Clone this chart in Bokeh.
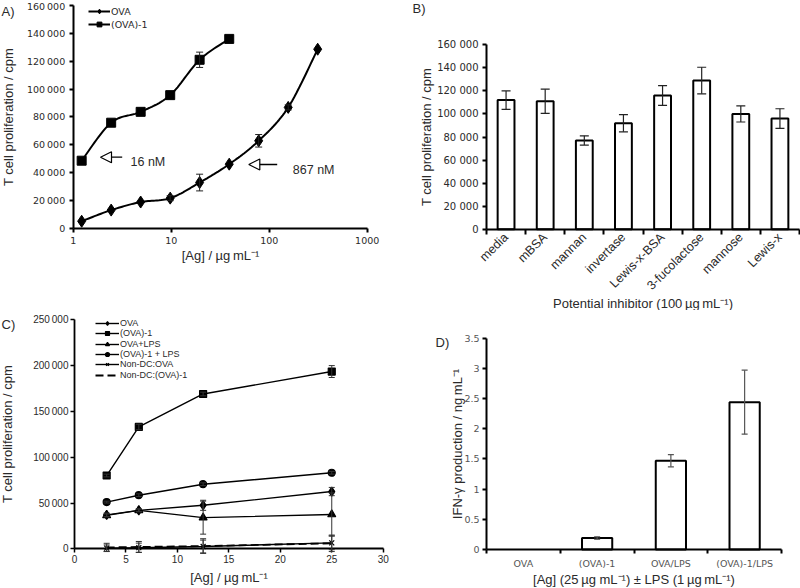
import math
import numpy as np
from bokeh.plotting import figure
from bokeh.layouts import column, row
from bokeh.models import (ColumnDataSource, Whisker, TeeHead, FixedTicker, Legend, LegendItem,
                          Label, Arrow, NormalHead, Range1d)
from bokeh.embed import file_html
from bokeh.resources import INLINE

# ---------------- data ----------------
# Panel A
a_ova_x = [1.22, 2.44, 4.88, 9.77, 19.5, 39.1, 78.1, 156.3, 312.5]
a_ova_y = [5000, 13000, 18800, 21600, 32800, 46000, 62800, 86800, 128600]
a_ova_err = [0, 0, 0, 1800, 6000, 0, 4500, 1800, 0]
a_conj_x = [1.22, 2.44, 4.88, 9.77, 19.5, 39.1]
a_conj_y = [48500, 75800, 83600, 95600, 121000, 136000]
a_conj_err = [0, 0, 0, 0, 5500, 0]
a_xticks = [1, 10, 100, 1000]
a_yticks = [0, 20000, 40000, 60000, 80000, 100000, 120000, 140000, 160000]
a_notes = ["16 nM", "867 nM"]

# Panel B
b_cats = ["media", "mBSA", "mannan", "invertase", "Lewis-x-BSA", "3-fucolactose", "mannose", "Lewis-x"]
b_vals = [112000, 111000, 77000, 92000, 116000, 129000, 100000, 96000]
b_err = [8000, 10500, 4000, 7500, 8500, 11500, 7000, 8500]
b_yticks = [0, 20000, 40000, 60000, 80000, 100000, 120000, 140000, 160000]

# Panel C
c_x = [3.125, 6.25, 12.5, 25]
c_ova = [37000, 42000, 47500, 62500]
c_ova_err = [2000, 1500, 5500, 4500]
c_conj = [80000, 133000, 169000, 193500]
c_conj_err = [1500, 3000, 2000, 6500]
c_ova_lps = [36500, 42000, 34000, 37500]
c_ova_lps_err = [1500, 1500, 18000, 23500]
c_conj_lps = [51000, 58500, 70500, 83000]
c_conj_lps_err = [1000, 1500, 1500, 1500]
c_ndc_ova = [700, 1200, 2500, 6500]
c_ndc_ova_err = [3500, 5000, 7000, 7500]
c_ndc_conj = [1500, 2000, 3000, 6000]
c_ndc_conj_err = [4500, 6000, 8000, 9000]
c_xticks = [0, 5, 10, 15, 20, 25, 30]
c_yticks = [0, 50000, 100000, 150000, 200000, 250000]

# Panel D
d_cats = ["OVA", "(OVA)-1", "OVA/LPS", "(OVA)-1/LPS"]
d_vals = [0, 0.19, 1.47, 2.44]
d_err = [0, 0.02, 0.10, 0.53]
d_yticks = [0, 0.5, 1, 1.5, 2, 2.5, 3, 3.5]
d_ylabels = ["0", "0.5", "1", "1.5", "2", "2.5", "3", "3.5"]

# ---------------- layout helpers ----------------
FONT = "Liberation Sans"
VFONT = "DejaVu Sans"
TXT = "#2a2a2a"


def thin(v):
    return f"{int(v):,}".replace(",", "\u2009")


def space(v):
    return f"{int(v):,}".replace(",", " ")


class Panel:
    """Figure whose frame fills the canvas; axes are pinned at data positions."""

    def __init__(self, box, xa, xb, ya, yb, xlog=False):
        # xa/xb: (data value, page pixel x); ya/yb: (data value, page pixel y)
        self.fx, self.fy, self.fw, self.fh = box
        self.xlog = xlog
        f = (lambda v: math.log10(v)) if xlog else (lambda v: v)
        (va, ra), (vb, rb) = xa, xb
        sx = (rb - ra) / (f(vb) - f(va))
        self.x0 = f(va) - (ra - self.fx) / sx
        self.sx = sx
        (wa, qa), (wb, qb) = ya, yb
        sy = (qa - qb) / (wb - wa)
        self.y0 = wa - (self.fy + self.fh - qa) / sy
        self.sy = sy
        xs, xe = self.x0, self.x0 + self.fw / sx
        if xlog:
            xs, xe = 10 ** xs, 10 ** xe
        p = figure(width=self.fw, height=self.fh,
                   x_range=Range1d(xs, xe), y_range=Range1d(self.y0, self.y0 + self.fh / sy),
                   x_axis_type="log" if xlog else "linear",
                   min_border=0, min_border_left=0, min_border_right=0,
                   min_border_top=0, min_border_bottom=0, title_location=None,
                   output_backend="svg", toolbar_location=None)
        p.outline_line_color = None
        p.grid.visible = False
        p.background_fill_color = "white"
        p.border_fill_color = "white"
        for ax in p.axis:
            ax.axis_line_color = "black"
            ax.major_tick_line_color = "black"
            ax.major_tick_in = 0
            ax.major_tick_out = 4
            ax.minor_tick_line_color = None
            ax.major_label_text_color = TXT
            ax.axis_label_text_color = TXT
            ax.axis_label_text_font_style = "normal"
            ax.axis_label_text_font = FONT
            ax.major_label_text_font = FONT
        self.p = p

    def dx(self, rx):
        v = self.x0 + (rx - self.fx) / self.sx
        return 10 ** v if self.xlog else v

    def dy(self, ry):
        return self.y0 + (self.fy + self.fh - ry) / self.sy

    def label(self, text, rx, ry, size="13px", align="left"):
        self.p.add_layout(Label(x=self.dx(rx), y=self.dy(ry), text=text, text_font=FONT,
                                text_font_size=size, text_color=TXT,
                                text_baseline="middle", text_align=align))

    def legend_item(self, label, renderers, rx, rcenter, glyph_w, size, font, h=12):
        leg = Legend(items=[LegendItem(label=label, renderers=renderers)],
                     location=(round(rx - self.fx), round(self.fy + self.fh - rcenter - h / 2)),
                     padding=0, margin=0, spacing=0, glyph_width=glyph_w, glyph_height=h,
                     label_height=h, label_standoff=1, background_fill_alpha=0,
                     border_line_color=None, label_text_font=font,
                     label_text_font_size=size, label_text_color=TXT)
        self.p.add_layout(leg)


def smooth(xs, ys, n=16):
    u = [math.log10(v) for v in xs]
    pts = list(zip(u, ys))
    ou, oy = [], []
    for i in range(len(pts) - 1):
        p0 = pts[i - 1] if i > 0 else pts[i]
        p1 = pts[i]
        p2 = pts[i + 1]
        p3 = pts[i + 2] if i + 2 < len(pts) else pts[i + 1]
        for t in np.linspace(0, 1, n, endpoint=False):
            t2, t3 = t * t, t * t * t
            vals = []
            for k in range(2):
                vals.append(0.5 * ((2 * p1[k]) + (-p0[k] + p2[k]) * t +
                                   (2 * p0[k] - 5 * p1[k] + 4 * p2[k] - p3[k]) * t2 +
                                   (-p0[k] + 3 * p1[k] - 3 * p2[k] + p3[k]) * t3))
            ou.append(vals[0]); oy.append(vals[1])
    ou.append(pts[-1][0]); oy.append(pts[-1][1])
    return [10 ** v for v in ou], oy


def whisk(p, xs, ys, errs, size=7, color="#222222", width=1):
    sel = [i for i in range(len(xs)) if errs[i] > 0]
    src = ColumnDataSource(dict(base=[xs[i] for i in sel],
                                lower=[ys[i] - errs[i] for i in sel],
                                upper=[ys[i] + errs[i] for i in sel]))
    w = Whisker(base="base", lower="lower", upper="upper", source=src, level="overlay",
                line_color=color, line_width=width,
                upper_head=TeeHead(size=size, line_color=color, line_width=width),
                lower_head=TeeHead(size=size, line_color=color, line_width=width))
    p.add_layout(w)


# ---------------- Panel A ----------------
A = Panel((0, 0, 400, 310), (1, 72.7), (1000, 366.7), (0, 227.7), (160000, 5), xlog=True)
pA = A.p
for ax in pA.axis:
    ax.axis_line_width = 2
    ax.major_tick_line_width = 2
    ax.major_label_text_font = VFONT
    ax.major_label_text_font_size = "9.5px"
    ax.axis_label_text_font_size = "13px"
pA.xaxis.fixed_location = 0
pA.xaxis.bounds = (a_xticks[0], a_xticks[-1])
pA.xaxis.ticker = FixedTicker(ticks=a_xticks, minor_ticks=[])
pA.xaxis.major_label_overrides = {v: str(v) for v in a_xticks}
pA.xaxis.major_label_standoff = 5
pA.xaxis.axis_label = "[Ag] / \u00b5g\u2009mL\u207b\u00b9"
pA.xaxis.axis_label_standoff = 0
pA.yaxis.fixed_location = a_xticks[0]
pA.yaxis.bounds = (a_yticks[0], a_yticks[-1])
pA.yaxis.ticker = FixedTicker(ticks=a_yticks, minor_ticks=[])
pA.yaxis.major_label_overrides = {v: thin(v) for v in a_yticks}
pA.yaxis.major_label_standoff = 4
pA.yaxis.axis_label = "T cell proliferation / cpm"
pA.yaxis.axis_label_standoff = 8

sx, sy = smooth(a_ova_x, a_ova_y)
lA1 = pA.line(sx, sy, line_color="black", line_width=2)
mA1 = pA.scatter(a_ova_x, a_ova_y, marker="diamond", size=12, color="black")
sx, sy = smooth(a_conj_x, a_conj_y)
lA2 = pA.line(sx, sy, line_color="black", line_width=2)
mA2 = pA.scatter(a_conj_x, a_conj_y, marker="square", size=9, color="black")
whisk(pA, a_ova_x, a_ova_y, a_ova_err)
whisk(pA, a_conj_x, a_conj_y, a_conj_err)

A.legend_item("OVA", [lA1, mA1], 88, 11, 22, "9.5px", VFONT)
A.legend_item("(OVA)-1", [lA2, mA2], 88, 24, 22, "9.5px", VFONT)

arrow_ref = [(121.7, 100.0, 156.7), (276.7, 248.3, 164.0)]
note_ref = [(130.0, 161.7), (292.3, 169.3)]
for (xt, xh, yy), (tx, ty), txt in zip(arrow_ref, note_ref, a_notes):
    pA.add_layout(Arrow(x_start=A.dx(xt), y_start=A.dy(yy), x_end=A.dx(xh), y_end=A.dy(yy),
                        line_width=1.3, line_color="black",
                        end=NormalHead(size=11, fill_color="white", line_color="black", line_width=1.2)))
    A.label(txt, tx, ty, size="12.5px")
A.label("A)", 1, 11)

# ---------------- Panel B ----------------
nB = len(b_cats)
B = Panel((400, 0, 400, 310), (0, 486), (nB, 799), (0, 228.7), (160000, 44.3))
pB = B.p
b_centers = [i + 0.5 for i in range(nB)]
for ax in pB.axis:
    ax.axis_line_width = 2
    ax.major_tick_line_width = 2
    ax.major_label_text_font = VFONT
    ax.major_label_text_font_size = "10px"
    ax.axis_label_text_font_size = "13px"
pB.xaxis.fixed_location = 0
pB.xaxis.bounds = (0, nB)
pB.xaxis.ticker = FixedTicker(ticks=b_centers, minor_ticks=list(range(nB + 1)))
pB.xaxis.major_tick_line_color = None
pB.xaxis.major_tick_out = 5
pB.xaxis.minor_tick_line_color = "black"
pB.xaxis.minor_tick_line_width = 2
pB.xaxis.minor_tick_in = 0
pB.xaxis.minor_tick_out = 5
pB.xaxis.major_label_overrides = {c: n for c, n in zip(b_centers, b_cats)}
pB.xaxis.major_label_orientation = math.pi / 4
pB.xaxis.major_label_text_font = FONT
pB.xaxis.major_label_text_font_size = "12.5px"
pB.xaxis.major_label_standoff = 1
pB.xaxis.axis_label = "Potential inhibitor (100\u2009\u00b5g\u2009mL\u207b\u00b9)"
pB.xaxis.axis_label_standoff = -5
pB.yaxis.fixed_location = 0
pB.yaxis.bounds = (b_yticks[0], b_yticks[-1])
pB.yaxis.ticker = FixedTicker(ticks=b_yticks, minor_ticks=[])
pB.yaxis.major_label_overrides = {v: space(v) for v in b_yticks}
pB.yaxis.major_label_standoff = 4
pB.yaxis.axis_label = "T cell proliferation / cpm"
pB.yaxis.axis_label_standoff = 0
pB.vbar(x=b_centers, top=b_vals, width=0.43, fill_color="white", line_color="black", line_width=2)
whisk(pB, b_centers, b_vals, b_err, size=9, color="#222222", width=1.2)
B.label("B)", 412, 7.5)

# ---------------- Panel C ----------------
C = Panel((0, 310, 400, 278), (0, 74), (30, 382.7), (0, 548.3), (250000, 319.3))
pC = C.p
for ax in pC.axis:
    ax.axis_line_width = 1.8
    ax.major_tick_line_width = 1.5
    ax.major_label_text_font_size = "10px"
    ax.axis_label_text_font_size = "13px"
pC.xaxis.fixed_location = 0
pC.xaxis.bounds = (c_xticks[0], c_xticks[-1])
pC.xaxis.ticker = FixedTicker(ticks=c_xticks, minor_ticks=[])
pC.xaxis.major_label_overrides = {v: str(v) for v in c_xticks}
pC.xaxis.major_label_standoff = 2
pC.xaxis.axis_label = "[Ag] / \u00b5g\u2009mL\u207b\u00b9"
pC.xaxis.axis_label_standoff = 4
pC.yaxis.fixed_location = 0
pC.yaxis.bounds = (c_yticks[0], c_yticks[-1])
pC.yaxis.ticker = FixedTicker(ticks=c_yticks, minor_ticks=[])
pC.yaxis.major_label_overrides = {v: thin(v) for v in c_yticks}
pC.yaxis.major_label_standoff = 2
pC.yaxis.axis_label = "T cell proliferation / cpm"
pC.yaxis.axis_label_standoff = 15

series_C = [
    ("OVA", c_ova, c_ova_err, "diamond", 9, "solid"),
    ("(OVA)-1", c_conj, c_conj_err, "square", 7, "solid"),
    ("OVA+LPS", c_ova_lps, c_ova_lps_err, "triangle", 8, "solid"),
    ("(OVA)-1 + LPS", c_conj_lps, c_conj_lps_err, "circle", 7, "solid"),
    ("Non-DC:OVA", c_ndc_ova, c_ndc_ova_err, "x", 7, "solid"),
    ("Non-DC:(OVA)-1", c_ndc_conj, c_ndc_conj_err, None, 0, "8 4"),
]
for i, (name, ys, errs, mk, sz, dash) in enumerate(series_C):
    lw = 1.8 if dash != "solid" else 1.4
    r_line = pC.line(c_x, ys, line_color="black", line_width=lw, line_dash=dash)
    rends = [r_line]
    if mk:
        r_m = pC.scatter(c_x, ys, marker=mk, size=sz, fill_color="black", line_color="black", line_width=1.2)
        rends.append(r_m)
    whisk(pC, c_x, ys, errs, size=6, color="#333333", width=1)
    C.legend_item(name, rends, 95, 323 + 10.3 * i, 24, "9px", FONT, h=10)
C.label("C)", 1, 323.5)

# ---------------- Panel D ----------------
nD = len(d_cats)
D = Panel((400, 310, 400, 278), (0, 486), (nD, 781), (0, 549), (3.5, 337.7))
pD = D.p
d_centers = [i + 0.5 for i in range(nD)]
for ax in pD.axis:
    ax.axis_line_width = 2
    ax.major_tick_line_width = 2
    ax.major_label_text_font = VFONT
    ax.major_label_text_font_size = "9.5px"
    ax.major_label_text_color = "#555555"
    ax.axis_label_text_font_size = "13px"
pD.xaxis.fixed_location = 0
pD.xaxis.bounds = (0, nD)
pD.xaxis.ticker = FixedTicker(ticks=d_centers, minor_ticks=list(range(nD + 1)))
pD.xaxis.major_tick_line_color = None
pD.xaxis.minor_tick_line_color = "black"
pD.xaxis.minor_tick_line_width = 2
pD.xaxis.minor_tick_in = 0
pD.xaxis.minor_tick_out = 4
pD.xaxis.major_label_overrides = {c: n for c, n in zip(d_centers, d_cats)}
pD.xaxis.major_label_standoff = 4
pD.xaxis.axis_label = "[Ag] (25\u2009\u00b5g mL\u207b\u00b9) \u00b1 LPS (1\u2009\u00b5g\u2009mL\u207b\u00b9)"
pD.xaxis.axis_label_standoff = 0
pD.yaxis.fixed_location = 0
pD.yaxis.bounds = (d_yticks[0], d_yticks[-1])
pD.yaxis.ticker = FixedTicker(ticks=d_yticks, minor_ticks=[])
pD.yaxis.major_label_overrides = {v: s for v, s in zip(d_yticks, d_ylabels)}
pD.yaxis.major_label_standoff = 3
pD.yaxis.axis_label = "IFN-\u03b3 production / ng\u2009mL\u207b\u00b9"
pD.yaxis.axis_label_standoff = -4
pD.vbar(x=d_centers[1:], top=d_vals[1:], width=0.41, fill_color="white", line_color="black", line_width=2)
whisk(pD, d_centers, d_vals, d_err, size=6, color="#555555", width=1.2)
D.label("D)", 435, 342)

layout = column(row(pA, pB), row(pC, pD))
open("out.html", "w").write(file_html(layout, INLINE))
